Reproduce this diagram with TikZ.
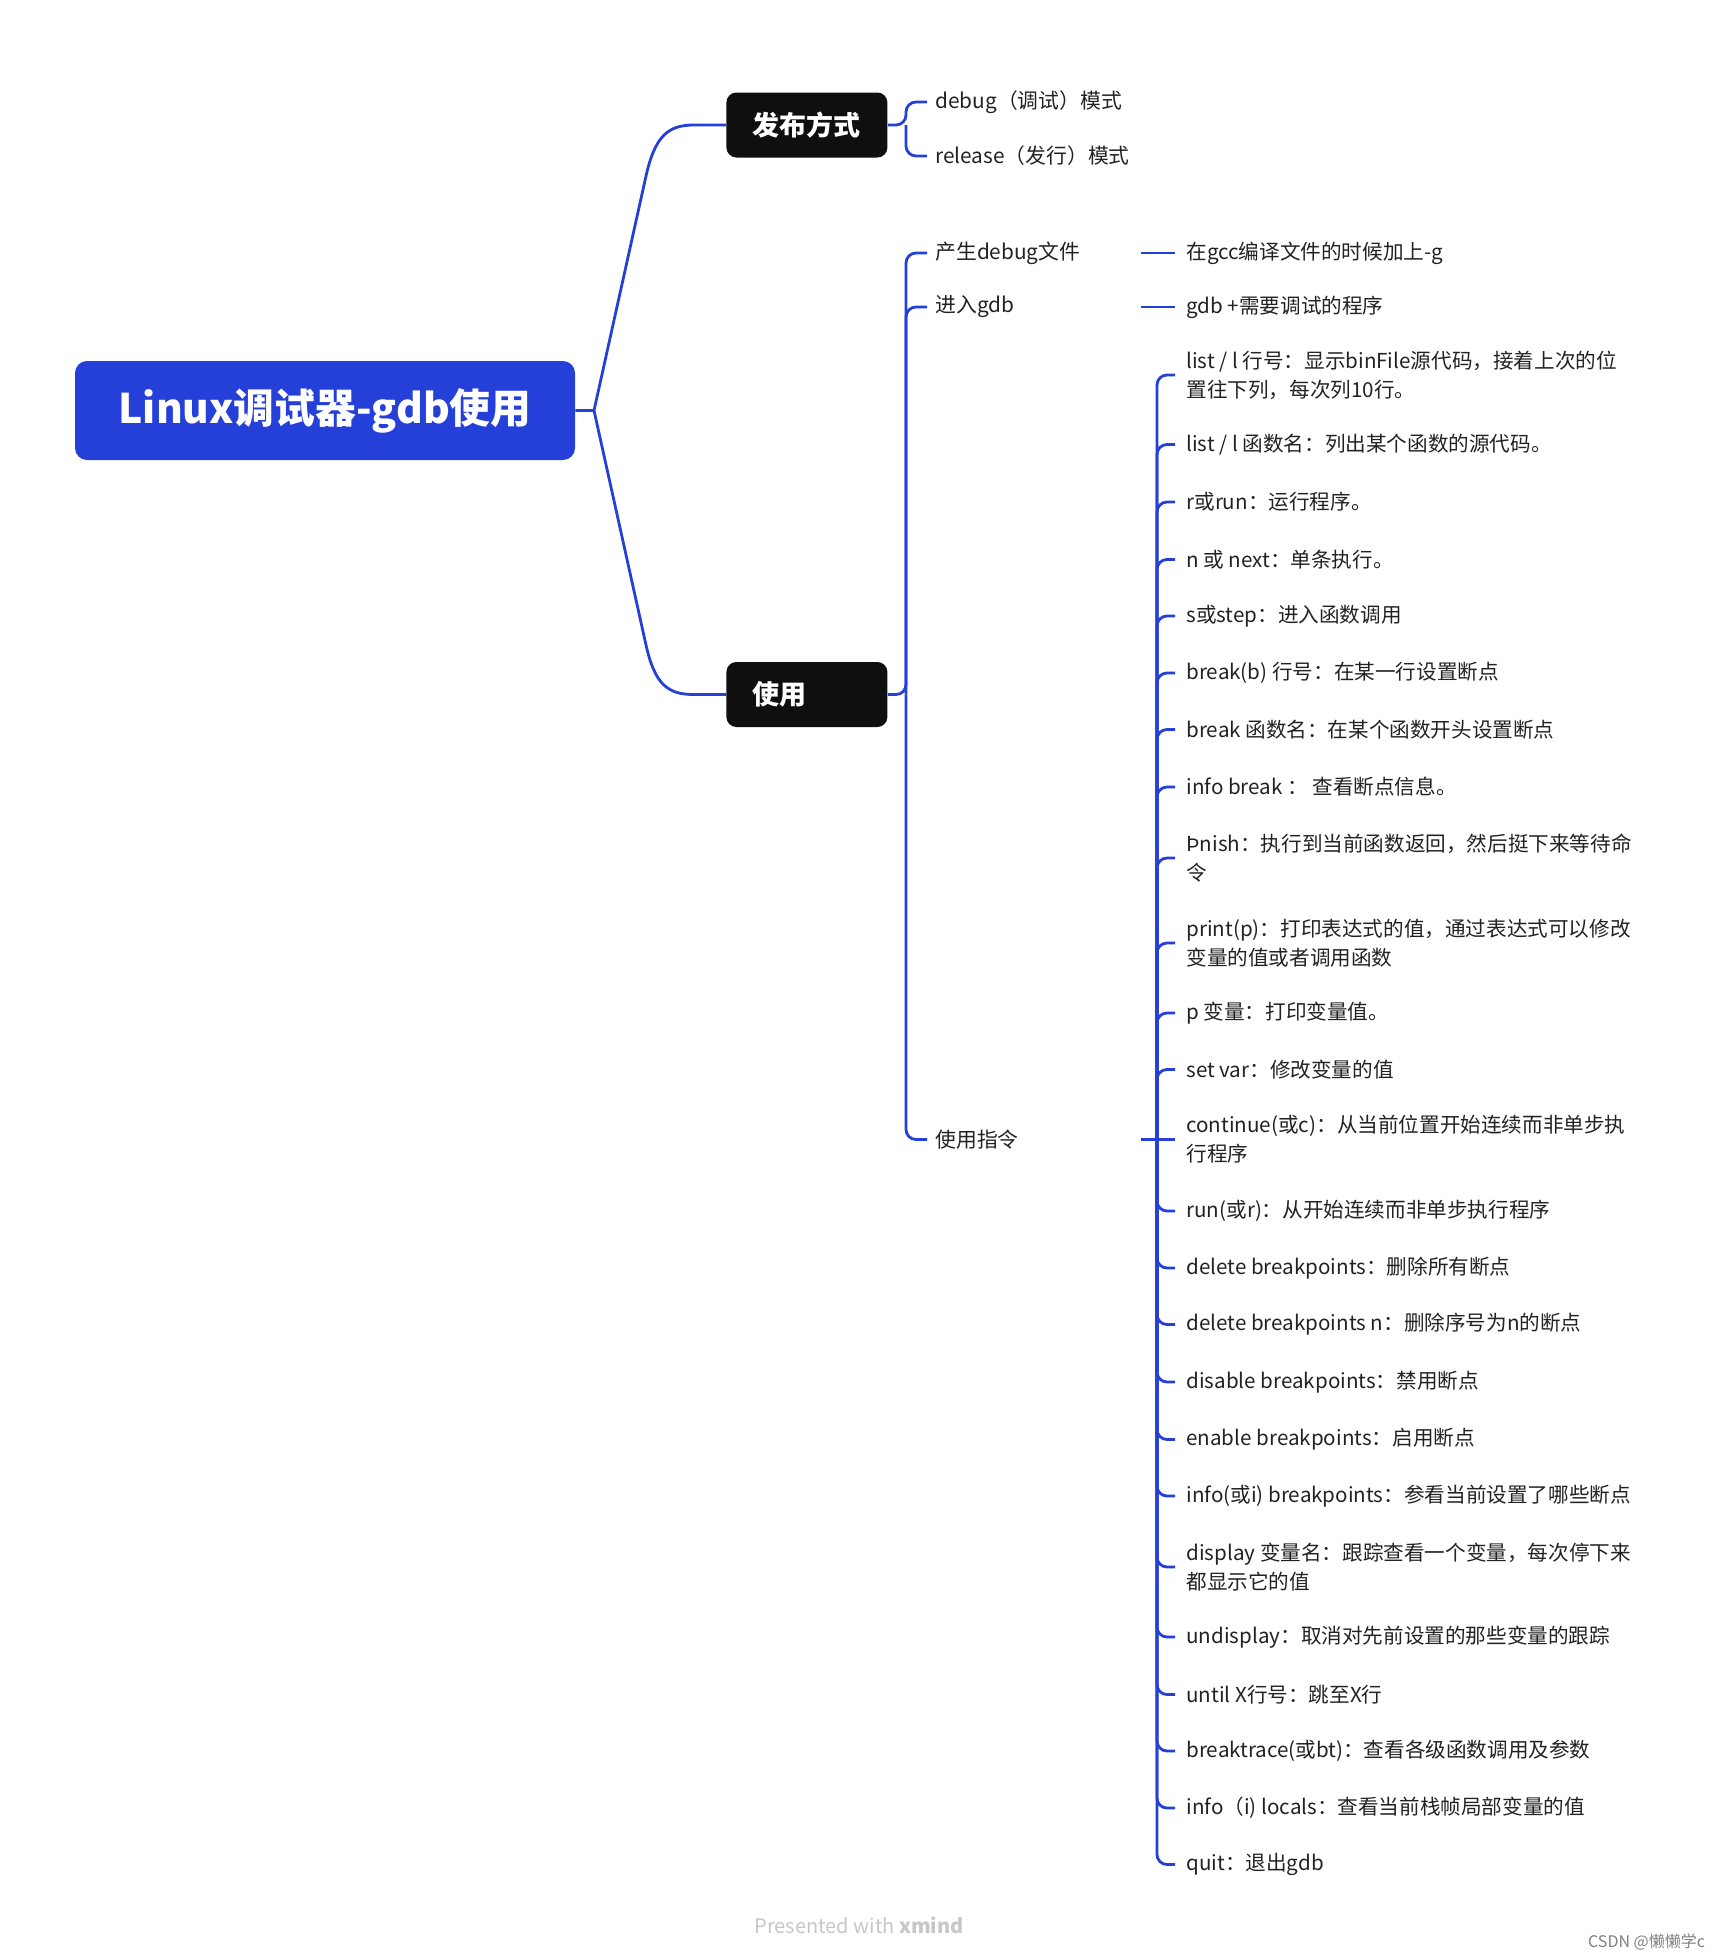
\documentclass[tikz,border=0pt]{standalone}
\usepackage{fontspec}
\setmainfont{Noto Sans CJK SC}
\definecolor{xblue}{RGB}{37,63,217}
\definecolor{xblack}{RGB}{15,15,15}
\definecolor{xtext}{RGB}{34,34,34}
\begin{document}
\begin{tikzpicture}[x=0.5pt,y=-0.5pt,
  conn/.style={draw=xblue, line width=1.4pt, rounded corners=5pt},
  rootconn/.style={draw=xblue, line width=1.4pt},
  rootbox/.style={fill=xblue, rounded corners=6pt, text=white, font=\fontsize{20.4}{24}\selectfont\bfseries, minimum width=250pt, minimum height=49.5pt, inner sep=0pt},
  mainbox/.style={fill=xblack, rounded corners=5pt, text=white, font=\fontsize{13.5}{16}\selectfont\bfseries, minimum width=80.5pt, minimum height=32.5pt, text width=54.5pt, inner xsep=13pt, inner ysep=0pt, align=left, anchor=west},
  sub/.style={anchor=west, inner xsep=4pt, inner ysep=2pt, text width=98.5pt, align=left, font=\fontsize{10.4}{14.4}\selectfont, text=xtext},
  leaf/.style={anchor=west, inner xsep=5.5pt, inner ysep=2pt, align=left, font=\fontsize{10.3}{14.4}\selectfont, text=xtext},
]
\useasboundingbox (0,0) rectangle (1720,1960);

% root and main topics
\node[rootbox] (root) at (325,410.5) {Linux调试器-gdb使用};
\node[mainbox] (fb) at (726,125) {发布方式};
\node[mainbox] (use) at (726,694.5) {使用};

\coordinate (rj) at (594,410.5);
\draw[rootconn] (root.east) -- (rj) -- (646,176) .. controls (655,136) and (668,125) .. (694,125) -- (fb.west);
\draw[rootconn] (rj) -- (646,645) .. controls (655,685) and (668,694.5) .. (694,694.5) -- (use.west);

% 发布方式 children
\node[sub] (d1) at (927,102) {debug（调试）模式};
\node[sub] (d2) at (927,156) {release（发行）模式};
\coordinate (fj) at (906,125);
\draw[conn] (fb.east) -- (fj) |- (d1.west);
\draw[conn] (fj) |- (d2.west);

% 使用 children
\node[sub] (u1) at (927,253) {产生debug文件};
\node[sub] (u2) at (927,307) {进入gdb};
\node[sub] (u3) at (927,1139.5) {使用指令};
\coordinate (uj) at (906,694.5);
\draw[conn] (use.east) -- (uj) |- (u1.west);
\draw[conn] (uj) |- (u2.west);
\draw[conn] (uj) |- (u3.west);

\node[leaf] (g1) at (1175,253) {在gcc编译文件的时候加上-g};
\node[leaf] (g2) at (1175,307) {gdb +需要调试的程序};
\draw[conn] (u1.east) -- (g1.west);
\draw[conn] (u2.east) -- (g2.west);

% 使用指令 children
\node[leaf] (c1) at (1175,375) {list / l 行号：显示binFile源代码，接着上次的位\\置往下列，每次列10行。};
\node[leaf] (c2) at (1175,444.5) {list / l 函数名：列出某个函数的源代码。};
\node[leaf] (c3) at (1175,502) {r或run：运行程序。};
\node[leaf] (c4) at (1175,559.5) {n 或 next：单条执行。};
\node[leaf] (c5) at (1175,616) {s或step：进入函数调用};
\node[leaf] (c6) at (1175,673) {break(b) 行号：在某一行设置断点};
\node[leaf] (c7) at (1175,729.5) {break 函数名：在某个函数开头设置断点};
\node[leaf] (c8) at (1175,787) {info break ： 查看断点信息。};
\node[leaf] (c9) at (1175,858) {Þnish：执行到当前函数返回，然后挺下来等待命\\令};
\node[leaf] (c10) at (1175,943) {print(p)：打印表达式的值，通过表达式可以修改\\变量的值或者调用函数};
\node[leaf] (c11) at (1175,1013) {p 变量：打印变量值。};
\node[leaf] (c12) at (1175,1069.5) {set var：修改变量的值};
\node[leaf] (c13) at (1175,1139.5) {continue(或c)：从当前位置开始连续而非单步执\\行程序};
\node[leaf] (c14) at (1175,1211) {run(或r)：从开始连续而非单步执行程序};
\node[leaf] (c15) at (1175,1268) {delete breakpoints：删除所有断点};
\node[leaf] (c16) at (1175,1324.5) {delete breakpoints n：删除序号为n的断点};
\node[leaf] (c17) at (1175,1382) {disable breakpoints：禁用断点};
\node[leaf] (c18) at (1175,1439.5) {enable breakpoints：启用断点};
\node[leaf] (c19) at (1175,1496) {info(或i) breakpoints：参看当前设置了哪些断点};
\node[leaf] (c20) at (1175,1567) {display 变量名：跟踪查看一个变量，每次停下来\\都显示它的值};
\node[leaf] (c21) at (1175,1637) {undisplay：取消对先前设置的那些变量的跟踪};
\node[leaf] (c22) at (1175,1694.5) {until X行号：跳至X行};
\node[leaf] (c23) at (1175,1751) {breaktrace(或bt)：查看各级函数调用及参数};
\node[leaf] (c24) at (1175,1808) {info（i) locals：查看当前栈帧局部变量的值};
\node[leaf] (c25) at (1175,1864.5) {quit：退出gdb};

\coordinate (cj) at (1157,1139.5);
\draw[conn] (u3.east) -- (cj) -- (c13.west);
\foreach \i in {1,...,12,14,15,...,25} {
  \draw[conn] (cj) |- (c\i.west);
}

% footer
\node[font=\fontsize{10}{12}\selectfont, text=black!22] (pw) at (859,1925) {Presented with \textbf{xmind}};
\node[font=\fontsize{8}{10}\selectfont, text=black!50, anchor=east] (csdn) at (1712,1942) {CSDN @懒懒学c};
\end{tikzpicture}
\end{document}
